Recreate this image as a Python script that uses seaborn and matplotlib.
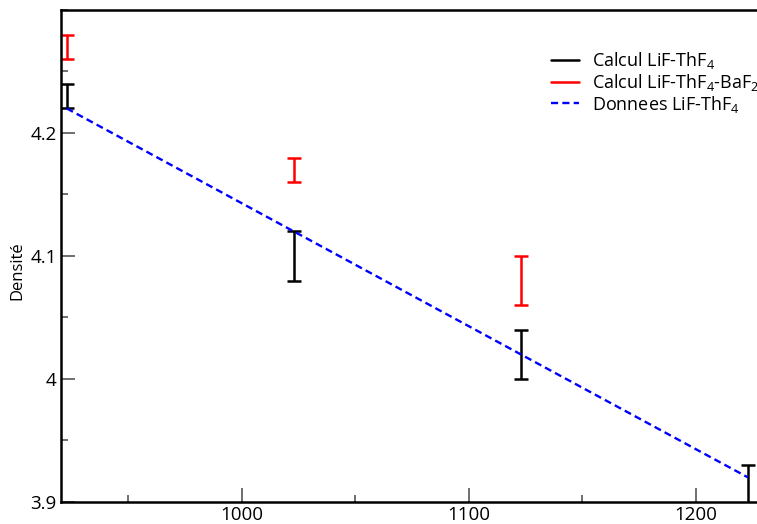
import matplotlib
matplotlib.use('Agg')
import matplotlib.pyplot as plt
from matplotlib.lines import Line2D
from matplotlib.ticker import MultipleLocator
import seaborn as sns
import pandas as pd

# --- données ---
temperature = [923, 1023, 1123, 1223]

# Calcul LiF-ThF4 (moyenne +/- erreur)
densite_lif_thf4 = [4.23, 4.10, 4.02, 3.91]
erreur_lif_thf4 = [0.01, 0.02, 0.02, 0.02]

# Calcul LiF-ThF4-BaF2
temperature_baf2 = [923, 1023, 1123]
densite_baf2 = [4.27, 4.17, 4.08]
erreur_baf2 = [0.01, 0.01, 0.02]

# Donnees experimentales LiF-ThF4
densite_donnees = [4.22, 4.12, 4.02, 3.92]

labels = ['Calcul LiF-ThF$_4$', 'Calcul LiF-ThF$_4$-BaF$_2$', 'Donnees LiF-ThF$_4$']

df_donnees = pd.DataFrame({'T': temperature, 'densite': densite_donnees})

# --- figure ---
sns.set_theme(style='ticks')
plt.rcParams['font.family'] = ['Open Sans', 'DejaVu Sans']
plt.rcParams['mathtext.default'] = 'regular'
plt.rcParams['text.color'] = 'black'
plt.rcParams['axes.labelcolor'] = 'black'
plt.rcParams['xtick.labelcolor'] = 'black'
plt.rcParams['ytick.labelcolor'] = 'black'

fig = plt.figure(figsize=(7.57, 5.24), dpi=100)
ax = fig.add_axes([61 / 757, 22 / 524, 704 / 757, 492 / 524])

sns.lineplot(data=df_donnees, x='T', y='densite', ax=ax, color='#0000ff',
             linestyle=(0, (3, 1.8)), linewidth=1.7, zorder=3)

ax.errorbar(temperature, densite_lif_thf4, yerr=erreur_lif_thf4, fmt='none',
            ecolor='black', elinewidth=1.8, capsize=5, capthick=1.8, zorder=2)
ax.errorbar(temperature_baf2, densite_baf2, yerr=erreur_baf2, fmt='none',
            ecolor='#ff0000', elinewidth=1.8, capsize=5, capthick=1.8, zorder=2)

ax.set_xlim(920.5, 1230.5)
ax.set_ylim(3.9, 4.3)
ax.xaxis.set_minor_locator(MultipleLocator(50))
ax.yaxis.set_minor_locator(MultipleLocator(0.05))
ax.set_yticks([3.9, 4.0, 4.1, 4.2])
ax.set_yticklabels(['3.9', '4', '4.1', '4.2'])
ax.set_xticks([1000, 1100, 1200])

ax.tick_params(which='major', direction='in', length=10, width=1.2,
               color='#555555', labelsize=13.5, pad=3)
ax.tick_params(which='minor', direction='in', length=5, width=1.2, color='#555555')
for s in ax.spines.values():
    s.set_linewidth(1.8)
    s.set_color('black')

ax.set_xlabel('')
ax.set_ylabel('Densité', fontsize=12)
ax.yaxis.set_label_coords(-0.05, 0.47)

handles = [Line2D([], [], color='black', lw=1.8),
           Line2D([], [], color='#ff0000', lw=1.8),
           Line2D([], [], color='#0000ff', lw=1.7, linestyle=(0, (3, 1.8)))]
fig.legend(handles, labels, loc='upper left', bbox_to_anchor=(551 / 757, 1 - 50 / 524),
           frameon=False, fontsize=13, handlelength=1.55, handletextpad=0.7,
           labelspacing=0.05, borderpad=0, borderaxespad=0)

fig.savefig('out.png', dpi=100)
